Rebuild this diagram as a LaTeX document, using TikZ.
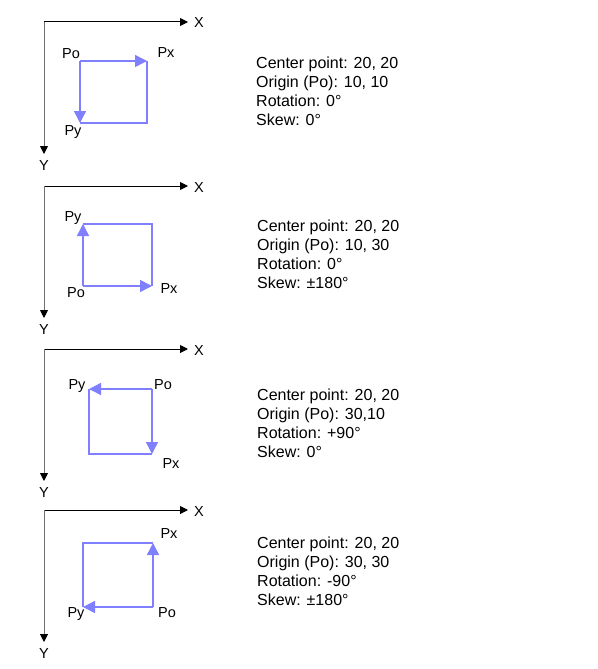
\documentclass[tikz,border=0pt]{standalone}
\usepackage{fontspec}
\setmainfont{Liberation Sans}
\usetikzlibrary{calc,positioning,arrows.meta}
\definecolor{vecblue}{HTML}{8080FF}
\definecolor{axgray}{HTML}{707070}

\begin{document}
\begin{tikzpicture}[x=1pt,y=-1pt,
  axis/.style={line width=1pt,-{Triangle[length=8pt,width=8pt,color=black]}},
  vec/.style={vecblue,line width=1.4pt,-{Triangle[length=12pt,width=12pt]}},
  side/.style={vecblue,line width=1.4pt},
  lbl/.style={inner sep=0pt,anchor=base,font=\fontsize{14.5}{17}\selectfont},
  info/.style={inner sep=0pt,anchor=base west,align=left,font=\fontsize{16}{18.7}\selectfont}]
\useasboundingbox (0,0) rectangle (597,669);
% axes of the four panels
\foreach \y [count=\k] in {22,186,349,510} {
  \coordinate (o\k) at (44,\y);
  \coordinate (xe\k) at (188,\y);
  \coordinate (ye\k) at (44,\y+132);
  \draw[axis] (o\k) -- (xe\k);
  \draw[axis,draw=axgray] (o\k) -- (ye\k);
  \node[lbl] (xl\k) at (199,\y+6) {X};
  \node[lbl] (yl\k) at (44,\y+148) {Y};
}
% corners: origin, x and y ends
\coordinate (po1) at (80,61);   \coordinate (px1) at (147,61);  \coordinate (py1) at (80,123);
\coordinate (po2) at (83,286);  \coordinate (px2) at (152,286); \coordinate (py2) at (83,224);
\coordinate (po3) at (152,389); \coordinate (px3) at (152,454); \coordinate (py3) at (89,389);
\coordinate (po4) at (153,607); \coordinate (px4) at (153,543); \coordinate (py4) at (83,607);
\foreach \k in {1,...,4} {
  \draw[side] (px\k) -- ($(px\k)+(py\k)-(po\k)$) -- (py\k);
  \draw[vec] (po\k) -- (px\k);
  \draw[vec] (po\k) -- (py\k);
}
% point labels
\node[lbl] (lpo1) at (71,59) {Po};   \node[lbl] (lpx1) at (166,58) {Px};  \node[lbl] (lpy1) at (73,135) {Py};
\node[lbl] (lpy2) at (73,221) {Py};  \node[lbl] (lpo2) at (76,297) {Po};  \node[lbl] (lpx2) at (169,293) {Px};
\node[lbl] (lpy3) at (77,389) {Py};  \node[lbl] (lpo3) at (163,389) {Po}; \node[lbl] (lpx3) at (171,468) {Px};
\node[lbl] (lpx4) at (169,538) {Px}; \node[lbl] (lpy4) at (76,617) {Py};  \node[lbl] (lpo4) at (167,617) {Po};
% settings (anchored at the last line)
\node[info] (info1) at (256,125) {Center point: 20, 20\\Origin (Po): 10, 10\\Rotation: 0°\\Skew: 0°};
\node[info] (info2) at (257,288) {Center point: 20, 20\\Origin (Po): 10, 30\\Rotation: 0°\\Skew: ±180°};
\node[info] (info3) at (257,457) {Center point: 20, 20\\Origin (Po): 30,10\\Rotation: +90°\\Skew: 0°};
\node[info] (info4) at (257,605) {Center point: 20, 20\\Origin (Po): 30, 30\\Rotation: -90°\\Skew: ±180°};
\end{tikzpicture}
\end{document}
